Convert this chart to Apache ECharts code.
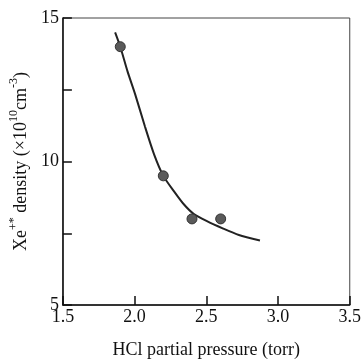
<!DOCTYPE html>
<html><head><meta charset="utf-8">
<script src="https://cdn.jsdelivr.net/npm/echarts@6/dist/echarts.min.js"></script>
<style>html,body{margin:0;padding:0;background:#fff}#c{width:364px;height:364px}</style>
</head><body><div id="c"></div>
<script>
var pointX = [1.9, 2.2, 2.4, 2.6];
var pointY = [14.0, 9.5, 8.0, 8.0];
var curveX = [1.864, 1.90, 1.95, 2.004, 2.072, 2.135, 2.20, 2.275, 2.343, 2.411, 2.501, 2.614, 2.727, 2.874];
var curveY = [14.50, 14.0, 13.15, 12.34, 11.22, 10.26, 9.5, 8.96, 8.51, 8.18, 7.93, 7.67, 7.44, 7.25];
var xTicks = [1.5, 2.0, 2.5, 3.0, 3.5];
var yTicks = [5, 10, 15];

var chart = echarts.init(document.getElementById('c'));
var font = 'Liberation Serif';
chart.setOption({
  animation: false,
  grid: {left: 59, top: 18, right: 10, bottom: 50, show: true, borderColor: '#444', borderWidth: 1},
  xAxis: {
    type: 'value', min: 1.5, max: 3.5, interval: 0.5,
    name: 'HCl partial pressure (torr)', nameLocation: 'middle', nameGap: 36,
    nameTextStyle: {fontFamily: font, fontSize: 18, color: '#111'},
    axisLine: {lineStyle: {color: '#111', width: 1.5}},
    axisTick: {inside: true, length: 9, lineStyle: {color: '#111', width: 1.5}},
    axisLabel: {fontFamily: font, fontSize: 18, color: '#111', margin: 3,
      formatter: function (v) { return xTicks.indexOf(v) >= 0 ? v.toFixed(1) : ''; }},
    splitLine: {show: false}
  },
  yAxis: {
    type: 'value', min: 5, max: 15, interval: 2.5,
    name: '{n|Xe}{s|+*}{n| density (×10}{s|10}{n|cm}{s|-3}{n|)}',
    nameLocation: 'middle', nameGap: 29, nameRotate: 90,
    nameTextStyle: {fontFamily: font, fontSize: 18, color: '#111',
      rich: {
        n: {fontFamily: font, fontSize: 18, color: '#111', verticalAlign: 'bottom', lineHeight: 22},
        s: {fontFamily: font, fontSize: 12, color: '#111', verticalAlign: 'top', lineHeight: 22}
      }},
    axisLine: {lineStyle: {color: '#111', width: 1.5}},
    axisTick: {inside: true, length: 9, lineStyle: {color: '#111', width: 1.5}},
    axisLabel: {fontFamily: font, fontSize: 18, color: '#111', margin: 4,
      formatter: function (v) { return yTicks.indexOf(v) >= 0 ? String(v) : ''; }},
    splitLine: {show: false}
  },
  series: [
    {type: 'line', data: curveX.map(function (x, i) { return [x, curveY[i]]; }),
     smooth: 0.25, showSymbol: false, symbol: 'none', lineStyle: {color: '#222', width: 2}, z: 2},
    {type: 'scatter', data: pointX.map(function (x, i) { return [x, pointY[i]]; }),
     symbolSize: 10, itemStyle: {color: '#5a5a5a', borderColor: '#333', borderWidth: 1, opacity: 1}, z: 3}
  ]
});
</script></body></html>
